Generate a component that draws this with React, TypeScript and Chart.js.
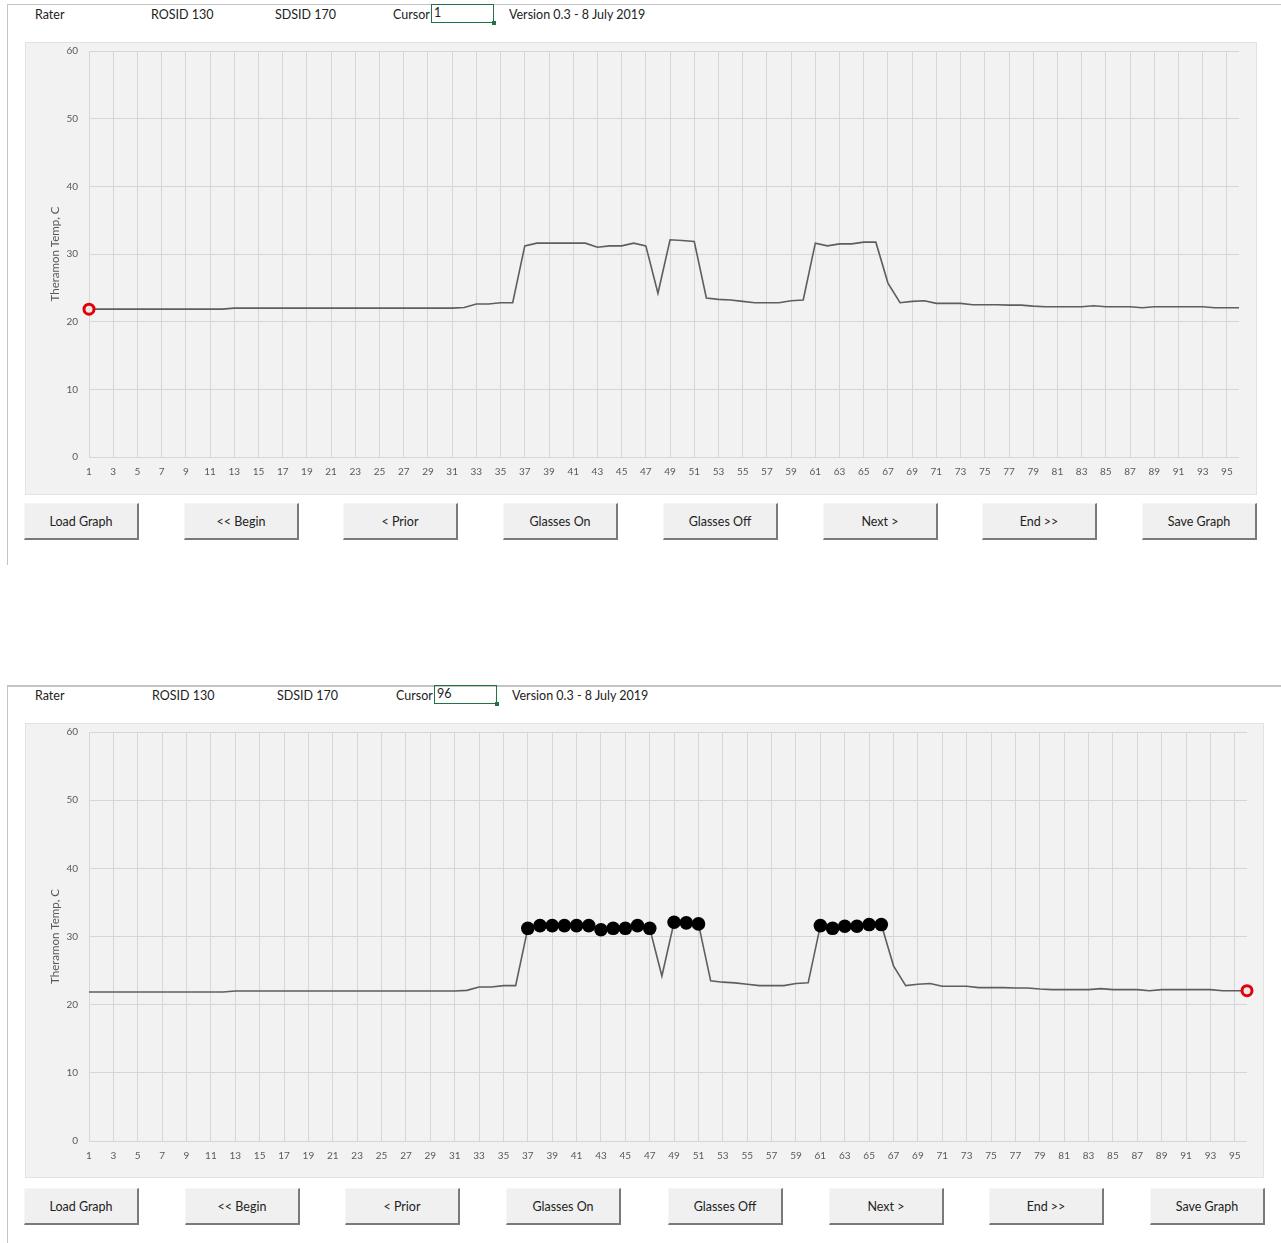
import React, { useEffect, useRef } from 'react';
import { Chart, registerables } from 'chart.js';

Chart.register(...registerables);

// ---------- data ----------
const categories: string[] = Array.from({ length: 96 }, (_, i) => String(i + 1));

const temps: number[] = [
  21.85, 21.85, 21.85, 21.85, 21.85, 21.85, 21.85, 21.85, 21.85, 21.85, 21.85, 21.85,
  22.0, 22.0, 22.0, 22.0, 22.0, 22.0, 22.0, 22.0, 22.0, 22.0, 22.0, 22.0, 22.0, 22.0, 22.0, 22.0, 22.0, 22.0, 22.0,
  22.1, 22.6, 22.6, 22.8, 22.8,
  31.2, 31.6, 31.6, 31.6, 31.6, 31.6, 31.0, 31.2, 31.2, 31.6, 31.2,
  24.2,
  32.1, 32.0, 31.85,
  23.5, 23.3, 23.2, 23.0, 22.8, 22.8, 22.8, 23.1, 23.2,
  31.6, 31.2, 31.5, 31.5, 31.75, 31.75,
  25.7,
  22.8, 23.0, 23.1,
  22.7, 22.7, 22.7, 22.5, 22.5, 22.5, 22.45, 22.45, 22.3, 22.2,
  22.2, 22.2, 22.2, 22.35, 22.2, 22.2, 22.2, 22.05, 22.2, 22.2,
  22.2, 22.2, 22.2, 22.05, 22.05, 22.05,
];

const glassesOnPoints: number[] = [
  37, 38, 39, 40, 41, 42, 43, 44, 45, 46, 47,
  49, 50, 51,
  61, 62, 63, 64, 65, 66,
];

const yMin = 0;
const yMax = 60;
const yStep = 10;
const yTitle = 'Theramon Temp, C';
const buttonLabels: string[] = [
  'Load Graph', '<< Begin', '< Prior', 'Glasses On', 'Glasses Off', 'Next >', 'End >>', 'Save Graph',
];

// ---------- styles ----------
const FONT = 'Lato, "Open Sans", sans-serif';
const GRID = '#d6d6d6';
const TICK = '#595959';

type Box = { x: number; y: number; w: number; h: number };
type Plot = { left: number; top: number; right: number; bottom: number };

function TempChart({ box, plot, cursor, marks }: { box: Box; plot: Plot; cursor: number; marks: number[] }) {
  const ref = useRef<HTMLCanvasElement>(null);
  useEffect(() => {
    const markData = temps.map((v, i) => (marks.includes(i + 1) ? v : null));
    const cursorData = temps.map((v, i) => (i + 1 === cursor ? v : null));
    const chart = new Chart(ref.current as HTMLCanvasElement, {
      type: 'line',
      data: {
        labels: categories,
        datasets: [
          {
            data: cursorData,
            showLine: false,
            pointRadius: 5,
            pointBorderWidth: 3,
            pointBorderColor: '#e3000b',
            pointBackgroundColor: '#e8e8e8',
            clip: false as any,
            order: 0,
          },
          {
            data: markData,
            showLine: false,
            pointRadius: 6.8,
            pointBorderWidth: 0,
            pointBackgroundColor: '#000000',
            pointBorderColor: '#000000',
            clip: false as any,
            order: 1,
          },
          {
            data: temps,
            borderColor: '#5e5e5e',
            borderWidth: 1.6,
            pointRadius: 0,
            tension: 0,
            fill: false,
            clip: false as any,
            order: 2,
          },
        ],
      },
      options: {
        responsive: false,
        animation: false,
        devicePixelRatio: 1,
        layout: {
          padding: {
            left: 0,
            top: plot.top - box.y,
            right: box.x + box.w - plot.right,
            bottom: 0,
          },
        },
        plugins: { legend: { display: false }, tooltip: { enabled: false } },
        scales: {
          x: {
            type: 'category',
            offset: false,
            border: { display: false },
            grid: {
              color: (c: any) => (c.index % 2 === 0 && c.index < 95 ? GRID : 'rgba(0,0,0,0)'),
              lineWidth: 1,
              drawTicks: false,
            },
            ticks: {
              autoSkip: false,
              maxRotation: 0,
              minRotation: 0,
              padding: 9,
              color: TICK,
              font: { family: FONT, size: 10 },
              callback: (_v: any, i: number) => (i % 2 === 0 ? categories[i] : ''),
            },
            afterFit: (s: any) => {
              s.height = box.y + box.h - plot.bottom;
              s.paddingLeft = 0;
              s.paddingRight = 0;
            },
          },
          y: {
            min: yMin,
            max: yMax,
            border: { display: false },
            grid: { color: GRID, lineWidth: 1, drawTicks: false },
            ticks: {
              stepSize: yStep,
              padding: 11,
              color: TICK,
              font: { family: FONT, size: 10 },
            },
            title: {
              display: true,
              text: yTitle,
              color: TICK,
              font: { family: FONT, size: 11.5 },
              padding: { top: 23, bottom: 0 },
            },
            afterFit: (s: any) => {
              s.width = plot.left - box.x;
              s.paddingTop = 0;
              s.paddingBottom = 0;
            },
          },
        },
      } as any,
    });
    return () => chart.destroy();
  }, []);
  return (
    <>
      <div
        style={{
          position: 'absolute',
          left: box.x,
          top: box.y,
          width: box.w,
          height: box.h,
          background: '#f2f2f2',
          border: '1px solid #e2e2e2',
          boxSizing: 'border-box',
        }}
      />
      <canvas
        ref={ref}
        width={box.w}
        height={box.h}
        style={{ position: 'absolute', left: box.x, top: box.y, width: box.w, height: box.h }}
      />
    </>
  );
}

function Header({ y, xs, boxX, cursorText }: { y: number; xs: number[]; boxX: number; cursorText: string }) {
  const t = (x: number, s: string) => (
    <div style={{ position: 'absolute', left: x, top: y - 7, fontSize: 12.5, lineHeight: '16px', color: '#222222', whiteSpace: 'nowrap' }}>
      {s}
    </div>
  );
  return (
    <>
      {t(xs[0], 'Rater')}
      {t(xs[1], 'ROSID 130')}
      {t(xs[2], 'SDSID 170')}
      {t(xs[3], 'Cursor')}
      <div
        style={{
          position: 'absolute',
          left: boxX,
          top: y - 10,
          width: 63,
          height: 19,
          border: '1.5px solid #217346',
          boxSizing: 'border-box',
          fontSize: 12.5,
          lineHeight: '16px',
          paddingLeft: 2,
          color: '#222222',
        }}
      >
        {cursorText}
        <div style={{ position: 'absolute', right: -3, bottom: -3, width: 4, height: 4, background: '#217346' }} />
      </div>
      {t(xs[4], 'Version 0.3 - 8 July 2019')}
    </>
  );
}

function Buttons({ y, xs }: { y: number; xs: number[] }) {
  return (
    <>
      {buttonLabels.map((b, i) => (
        <div
          key={b}
          style={{
            position: 'absolute',
            left: xs[i],
            top: y,
            width: 115,
            height: 37,
            background: '#f0f0f0',
            borderTop: '1px solid #f6f6f6',
            borderLeft: '1px solid #f6f6f6',
            borderRight: '2px solid #7a7a7a',
            borderBottom: '2px solid #7a7a7a',
            boxSizing: 'border-box',
            display: 'flex',
            alignItems: 'center',
            justifyContent: 'center',
            fontSize: 12.5,
            color: '#222222',
          }}
        >
          {b}
        </div>
      ))}
    </>
  );
}

export default function App() {
  return (
    <div
      style={{
        position: 'absolute',
        left: 0,
        top: 0,
        width: 1281,
        height: 1243,
        overflow: 'hidden',
        background: '#ffffff',
        fontFamily: FONT,
      }}
    >
      {/* top screenshot frame */}
      <div style={{ position: 'absolute', left: 7, top: 4, width: 1274, height: 1, background: '#c4c4c4' }} />
      <div style={{ position: 'absolute', left: 7, top: 4, width: 1, height: 561, background: '#c4c4c4' }} />
      <Header y={14} xs={[35, 151, 275, 393, 509]} boxX={431} cursorText="1" />
      <TempChart
        box={{ x: 25, y: 42, w: 1232, h: 453 }}
        plot={{ left: 89, top: 51, right: 1239, bottom: 457 }}
        cursor={1}
        marks={[]}
      />
      <Buttons y={503} xs={[24, 184, 343, 503, 663, 823, 982, 1142]} />

      {/* bottom screenshot frame */}
      <div style={{ position: 'absolute', left: 7, top: 685, width: 1274, height: 2, background: '#c4c4c4' }} />
      <div style={{ position: 'absolute', left: 7, top: 685, width: 1, height: 558, background: '#c4c4c4' }} />
      <Header y={695} xs={[35, 152, 277, 396, 512]} boxX={434} cursorText="96" />
      <TempChart
        box={{ x: 25, y: 723, w: 1239, h: 455 }}
        plot={{ left: 89, top: 732, right: 1247, bottom: 1141 }}
        cursor={96}
        marks={glassesOnPoints}
      />
      <Buttons y={1188} xs={[24, 185, 345, 506, 668, 829, 989, 1150]} />
    </div>
  );
}
